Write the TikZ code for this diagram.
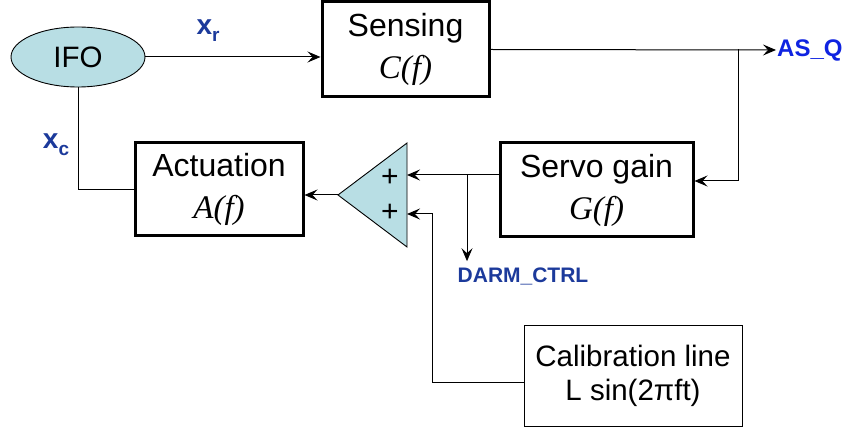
\documentclass[tikz,border=0pt]{standalone}
\usepackage{fontspec}
\setmainfont{Liberation Sans}
\newfontfamily\serifit{Liberation Serif}
\usepackage{tikz}
\usetikzlibrary{arrows.meta,positioning,shapes.geometric,calc}
\definecolor{ifofill}{RGB}{184,222,228}
\definecolor{sigblue}{RGB}{28,58,155}
\definecolor{outblue}{RGB}{15,35,225}
\newcommand\tfn[1]{{\fontsize{33}{42}\selectfont\serifit\itshape #1(f)}}
\newcommand\subl[1]{\raisebox{-7pt}{\fontsize{19}{19}\selectfont #1}}
\tikzset{
  blk/.style={draw=black,line width=3pt,align=center,inner sep=0pt,
              font=\fontsize{32}{42}\selectfont},
  thinblk/.style={blk,line width=1pt,font=\fontsize{29.5}{34}\selectfont},
  ifo/.style={ellipse,draw=black,fill=ifofill,line width=0.9pt,inner sep=0pt,
              minimum width=134pt,minimum height=60pt,font=\fontsize{29.5}{29.5}\selectfont},
  sumamp/.style={draw=black,fill=ifofill,line width=0.9pt},
  plus/.style={inner sep=0pt,font=\fontsize{30}{30}\selectfont},
  sig/.style={-{Stealth[length=13pt,width=11pt,inset=5pt]},draw=black,line width=1pt},
  wire/.style={draw=black,line width=1pt},
  lbl/.style={inner sep=1pt,text=sigblue,font=\fontsize{28}{28}\selectfont\bfseries},
  tag/.style={inner sep=1pt,text=sigblue,font=\fontsize{21}{21}\selectfont\bfseries},
}
\begin{document}
\begin{tikzpicture}[x=1pt,y=-1pt]
  \useasboundingbox (0,0) rectangle (848,427);
  \node[ifo] (ifo) at (78,57) {IFO};
  \node[blk,minimum width=167pt,minimum height=95pt] (sense) at (405.5,49.5) {Sensing\\\tfn{C}};
  \node[blk,minimum width=168pt,minimum height=93pt] (act) at (219,189.5) {Actuation\\\tfn{A}};
  \node[blk,minimum width=193pt,minimum height=94pt] (servo) at (596.5,190) {Servo gain\\\tfn{G}};
  \node[thinblk,minimum width=218pt,minimum height=100pt] (cal) at (633,376) {Calibration line\\L sin(2πft)};
  \coordinate (sumtip) at (338,195);
  \draw[sumamp] (sumtip) -- (407,143) -- (407,247) -- cycle;
  \coordinate (in1) at (407,175);
  \coordinate (in2) at (407,214);
  \foreach \k/\yy in {1/178,2/213}{\node[plus] (p\k) at (390,\yy) {+};}
  \node[lbl] (xr) at (208,31) {x\subl{r}};
  \node[lbl] (xc) at (56,145) {x\subl{c}};
  \node[tag] (darm) at (523,276) {DARM\_CTRL};
  \node[tag,anchor=west,text=outblue,font=\fontsize{24}{24}\selectfont\bfseries] (asq) at (776,50) {AS\_Q};
  \coordinate (tapq) at (738,49.5);
  \coordinate (tapd) at (467,175);
  \coordinate (calout) at (cal.west |- 0,382);
  \coordinate (calbend) at (432,382);
  \draw[sig] (ifo.east) -- (ifo.east -| sense.west);
  \draw[sig] (sense.east) -- (asq.west);
  \draw[sig] (tapq) |- ([yshift=9pt]servo.east);
  \draw[sig] (servo.west |- in1) -- (in1);
  \draw[sig,shorten >=5pt] (tapd) -- (tapd |- darm.north);
  \draw[sig] (calout) -- (calbend) |- (in2);
  \draw[sig] (sumtip) -- (sumtip -| act.east);
  \draw[wire] (act.west) -| (ifo.south);
\end{tikzpicture}
\end{document}
